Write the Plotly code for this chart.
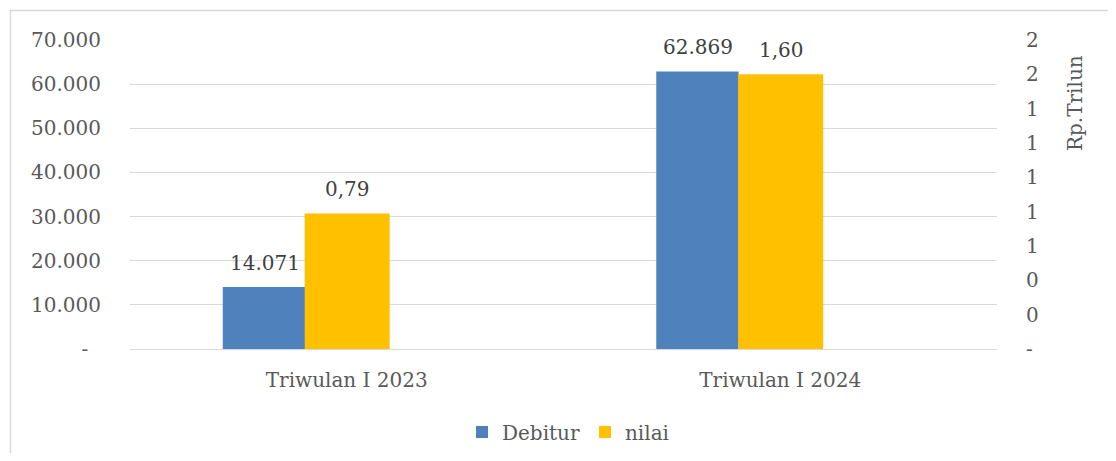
import plotly.graph_objects as go

categories = ["Triwulan I 2023", "Triwulan I 2024"]
debitur = [14071, 62869]
nilai = [0.79, 1.60]

left_tickvals = [0, 10000, 20000, 30000, 40000, 50000, 60000, 70000]
left_ticktext = ["-\u00a0\u00a0", "10.000", "20.000", "30.000", "40.000", "50.000", "60.000", "70.000"]
right_tickvals = [0, 0.2, 0.4, 0.6, 0.8, 1.0, 1.2, 1.4, 1.6, 1.8]
right_ticktext = ["-", "0", "0", "1", "1", "1", "1", "1", "2", "2"]

FONT = "DejaVu Serif"
FS = 20
# page has an 8px body margin; all pixel positions below are figure coords
W, H = 1100, 445
L, R, T, B = 122, 111, 32, 104
pw, ph = W - L - R, H - T - B

def fmt_int(v):
    return f"{v:,}".replace(",", ".")

def fmt_dec(v):
    return f"{v:.2f}".replace(".", ",")

fig = go.Figure()
fig.add_trace(go.Bar(
    x=categories, y=debitur, name="Debitur", yaxis="y",
    marker=dict(color="#4f81bd", line=dict(width=0)), width=0.19, offset=-0.286,
))
fig.add_trace(go.Bar(
    x=categories, y=nilai, name="nilai", yaxis="y2",
    marker=dict(color="#ffc000", line=dict(width=0)), width=0.196, offset=-0.097,
))

def px2x(p):
    return (p - L) / pw

def px2y(p):
    return (H - B - p) / ph

annotations = []
for c, v in zip(categories, debitur):
    annotations.append(dict(x=c, y=v, xref="x", yref="y", text=fmt_int(v), showarrow=False,
                            xshift=-82, yshift=24, yanchor="middle",
                            font=dict(family=FONT, size=FS, color="#404040")))
for c, v in zip(categories, nilai):
    annotations.append(dict(x=c, y=v, xref="x", yref="y2", text=fmt_dec(v), showarrow=False,
                            xshift=1, yshift=24, yanchor="middle",
                            font=dict(family=FONT, size=FS, color="#404040")))
annotations.append(dict(text="Rp.Trilun", textangle=-90, xref="paper", yref="paper",
                        x=px2x(1067), y=px2y(95), xanchor="center", yanchor="middle",
                        showarrow=False, font=dict(family=FONT, size=FS, color="#595959")))

fig.update_layout(
    width=W, height=H,
    margin=dict(l=L, r=R, t=T, b=B, autoexpand=False),
    paper_bgcolor="white", plot_bgcolor="white",
    font=dict(family=FONT, size=FS, color="#595959"),
    barmode="overlay",
    xaxis=dict(showgrid=False, showline=False, zeroline=False, automargin=False,
               ticks="outside", ticklen=13, tickcolor="rgba(0,0,0,0)",
               tickfont=dict(family=FONT, size=FS, color="#595959")),
    yaxis=dict(range=[0, 70000], tickvals=left_tickvals, ticktext=left_ticktext,
               showgrid=True, gridcolor="#d9d9d9", gridwidth=1, automargin=False,
               zeroline=True, zerolinecolor="#d9d9d9", zerolinewidth=1,
               showline=False, ticks="outside", ticklen=24, tickcolor="rgba(0,0,0,0)",
               tickfont=dict(family=FONT, size=FS, color="#595959")),
    yaxis2=dict(range=[0, 1.8], tickvals=right_tickvals, ticktext=right_ticktext,
                overlaying="y", side="right", showgrid=False, zeroline=False, automargin=False,
                showline=False, ticks="outside", ticklen=24, tickcolor="rgba(0,0,0,0)",
                tickfont=dict(family=FONT, size=FS, color="#595959")),
    showlegend=True,
    legend=dict(orientation="h", x=px2x(560), xanchor="center", y=px2y(424), yanchor="middle",
                font=dict(family=FONT, size=FS, color="#595959"), bgcolor="rgba(0,0,0,0)"),
    annotations=annotations,
    shapes=[dict(type="rect", xref="paper", yref="paper",
                 x0=px2x(2.5), x1=px2x(1120), y0=px2y(470), y1=px2y(2.5),
                 line=dict(color="#d9d9d9", width=1.5), fillcolor="rgba(0,0,0,0)", layer="below")],
)

fig.write_html("out.html")
